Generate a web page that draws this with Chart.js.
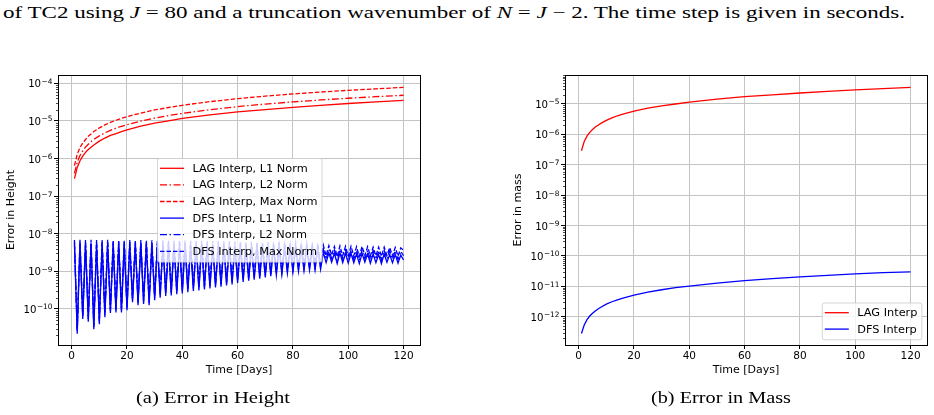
<!DOCTYPE html>
<html>
<head>
<meta charset="utf-8">
<script src="https://cdn.jsdelivr.net/npm/chart.js@4.4.0/dist/chart.umd.min.js"></script>
<style>
  body { margin: 0; width: 934px; height: 415px; background: #fff; position: relative; overflow: hidden; }
  .cap { position: absolute; font-family: "Liberation Serif", serif; color: #000; white-space: nowrap; transform-origin: 0 0; }
  #topcap { left: 3px; top: 3px; font-size: 17px; }
  .sub { top: 388px; font-size: 17px; }
  canvas { position: absolute; }
</style>
</head>
<body>
<div class="cap" id="topcap">of TC2 using <i>J</i> = 80 and a truncation wavenumber of <i>N</i> = <i>J</i> &minus; 2. The time step is given in seconds.</div>
<canvas id="height" width="440" height="330" style="left:0;top:60px"></canvas>
<canvas id="mass" width="454" height="330" style="left:480px;top:60px"></canvas>
<div class="cap sub" id="capA">(a) Error in Height</div>
<div class="cap sub" id="capB">(b) Error in Mass</div>
<script>
// data
const days = Array.from({ length: 120 }, (_, i) => i + 1);
const lagDays = [1, 2, 3, 4, 5, 6, 7, 8, 10, 12, 14, 16, 18, 20, 25, 30, 35, 40, 50, 60, 70, 80, 90, 100, 110, 120];

const lagL1 = [2.9e-7, 5.8e-7, 8.7e-7, 1.16e-6, 1.45e-6, 1.74e-6, 2.0e-6, 2.3e-6, 2.9e-6, 3.5e-6, 4.1e-6, 4.6e-6, 5.2e-6,
  5.8e-6, 7.3e-6, 8.7e-6, 1.0e-5, 1.16e-5, 1.45e-5, 1.74e-5, 2.0e-5, 2.3e-5, 2.6e-5, 2.9e-5, 3.2e-5, 3.5e-5];
const lagL2 = [4.0e-7, 8.0e-7, 1.2e-6, 1.6e-6, 2.0e-6, 2.4e-6, 2.8e-6, 3.2e-6, 4.0e-6, 4.8e-6, 5.6e-6, 6.4e-6, 7.2e-6,
  7.9e-6, 9.9e-6, 1.19e-5, 1.39e-5, 1.58e-5, 1.98e-5, 2.4e-5, 2.8e-5, 3.2e-5, 3.6e-5, 4.0e-5, 4.4e-5, 4.8e-5];
const lagMax = [6.5e-7, 1.3e-6, 1.95e-6, 2.6e-6, 3.2e-6, 3.9e-6, 4.5e-6, 5.2e-6, 6.5e-6, 7.8e-6, 9.1e-6, 1.04e-5, 1.17e-5,
  1.3e-5, 1.62e-5, 1.95e-5, 2.27e-5, 2.6e-5, 3.25e-5, 3.9e-5, 4.55e-5, 5.2e-5, 5.85e-5, 6.5e-5, 7.1e-5, 7.8e-5];

const dfsL1 = [
  5.2e-9, 2.2e-11, 5.3e-9, 5.4e-11, 5.2e-9, 4.6e-11, 5.3e-9, 2.9e-11, 5.2e-9, 3.9e-11,
  5.2e-9, 6.0e-11, 5.3e-9, 7.8e-11, 5.2e-9, 8.1e-11, 5.2e-9, 8.1e-11, 5.1e-9, 9.3e-11,
  5.2e-9, 1.5e-10, 5.1e-9, 1.26e-10, 5.2e-9, 1.35e-10, 5.1e-9, 1.26e-10, 5.1e-9, 1.7e-10,
  5.1e-9, 2.0e-10, 5.1e-9, 2.2e-10, 5.0e-9, 2.3e-10, 5.0e-9, 2.45e-10, 5.0e-9, 2.6e-10,
  5.0e-9, 2.8e-10, 4.9e-9, 3.0e-10, 4.9e-9, 3.1e-10, 4.9e-9, 3.3e-10, 4.8e-9, 3.5e-10,
  4.8e-9, 3.7e-10, 4.8e-9, 3.9e-10, 4.7e-9, 4.2e-10, 4.7e-9, 4.5e-10, 4.6e-9, 4.9e-10,
  4.6e-9, 5.2e-10, 4.5e-9, 5.6e-10, 4.5e-9, 6.0e-10, 4.4e-9, 6.4e-10, 4.4e-9, 6.9e-10,
  4.3e-9, 7.4e-10, 4.3e-9, 7.9e-10, 4.2e-9, 8.4e-10, 4.2e-9, 9.0e-10, 4.1e-9, 9.6e-10,
  4.1e-9, 1.0e-9, 4.0e-9, 1.05e-9, 4.0e-9, 1.08e-9, 3.9e-9, 1.1e-9, 3.8e-9, 1.12e-9,
  3.2e-9, 1.7e-9, 3.1e-9, 1.75e-9, 3.0e-9, 1.6e-9, 3.1e-9, 1.7e-9, 3.0e-9, 1.65e-9,
  3.0e-9, 1.7e-9, 2.9e-9, 1.6e-9, 3.0e-9, 1.75e-9, 2.9e-9, 1.65e-9, 2.9e-9, 1.7e-9,
  2.8e-9, 1.6e-9, 2.9e-9, 1.75e-9, 2.8e-9, 1.7e-9, 2.8e-9, 1.65e-9, 2.7e-9, 2.0e-9
];
const dfsL2 = [
  6.0e-9, 2.5e-11, 6.1e-9, 6.2e-11, 6.0e-9, 5.3e-11, 6.1e-9, 3.3e-11, 6.0e-9, 4.5e-11,
  6.0e-9, 6.9e-11, 6.1e-9, 9.0e-11, 6.0e-9, 9.3e-11, 6.0e-9, 9.3e-11, 5.9e-9, 1.07e-10,
  6.0e-9, 1.7e-10, 5.9e-9, 1.45e-10, 6.0e-9, 1.55e-10, 5.9e-9, 1.45e-10, 5.9e-9, 1.95e-10,
  5.9e-9, 2.3e-10, 5.9e-9, 2.5e-10, 5.8e-9, 2.65e-10, 5.8e-9, 2.8e-10, 5.8e-9, 3.0e-10,
  5.8e-9, 3.2e-10, 5.7e-9, 3.45e-10, 5.7e-9, 3.6e-10, 5.7e-9, 3.8e-10, 5.6e-9, 4.0e-10,
  5.6e-9, 4.25e-10, 5.6e-9, 4.5e-10, 5.5e-9, 4.8e-10, 5.5e-9, 5.2e-10, 5.4e-9, 5.6e-10,
  5.4e-9, 6.0e-10, 5.3e-9, 6.4e-10, 5.3e-9, 6.9e-10, 5.2e-9, 7.4e-10, 5.2e-9, 7.9e-10,
  5.1e-9, 8.5e-10, 5.1e-9, 9.1e-10, 5.0e-9, 9.7e-10, 5.0e-9, 1.03e-9, 4.9e-9, 1.1e-9,
  4.9e-9, 1.15e-9, 4.8e-9, 1.2e-9, 4.8e-9, 1.25e-9, 4.7e-9, 1.27e-9, 4.6e-9, 1.3e-9,
  3.9e-9, 2.1e-9, 3.8e-9, 2.2e-9, 3.7e-9, 2.0e-9, 3.8e-9, 2.1e-9, 3.7e-9, 2.05e-9,
  3.7e-9, 2.1e-9, 3.6e-9, 2.0e-9, 3.7e-9, 2.15e-9, 3.6e-9, 2.05e-9, 3.6e-9, 2.1e-9,
  3.5e-9, 2.0e-9, 3.6e-9, 2.15e-9, 3.5e-9, 2.1e-9, 3.5e-9, 2.05e-9, 3.4e-9, 2.6e-9
];
const dfsMax = [
  6.8e-9, 2.9e-11, 6.9e-9, 7.0e-11, 6.8e-9, 6.0e-11, 6.9e-9, 3.8e-11, 6.8e-9, 5.1e-11,
  6.8e-9, 7.8e-11, 6.9e-9, 1.0e-10, 6.8e-9, 1.05e-10, 6.8e-9, 1.05e-10, 6.7e-9, 1.2e-10,
  6.8e-9, 1.95e-10, 6.7e-9, 1.65e-10, 6.8e-9, 1.75e-10, 6.7e-9, 1.65e-10, 6.7e-9, 2.2e-10,
  6.7e-9, 2.6e-10, 6.7e-9, 2.85e-10, 6.6e-9, 3.0e-10, 6.6e-9, 3.2e-10, 6.6e-9, 3.4e-10,
  6.6e-9, 3.6e-10, 6.5e-9, 3.9e-10, 6.5e-9, 4.0e-10, 6.5e-9, 4.3e-10, 6.4e-9, 4.6e-10,
  6.4e-9, 4.8e-10, 6.4e-9, 5.1e-10, 6.3e-9, 5.5e-10, 6.3e-9, 5.9e-10, 6.2e-9, 6.4e-10,
  6.2e-9, 6.8e-10, 6.1e-9, 7.3e-10, 6.1e-9, 7.8e-10, 6.0e-9, 8.3e-10, 6.0e-9, 9.0e-10,
  5.9e-9, 9.6e-10, 5.9e-9, 1.03e-9, 5.8e-9, 1.1e-9, 5.8e-9, 1.17e-9, 5.7e-9, 1.25e-9,
  5.7e-9, 1.3e-9, 5.6e-9, 1.37e-9, 5.6e-9, 1.4e-9, 5.5e-9, 1.43e-9, 5.4e-9, 1.46e-9,
  4.9e-9, 2.6e-9, 4.8e-9, 2.7e-9, 4.6e-9, 2.5e-9, 4.7e-9, 2.6e-9, 4.6e-9, 2.55e-9,
  4.6e-9, 2.6e-9, 4.5e-9, 2.5e-9, 4.6e-9, 2.65e-9, 4.5e-9, 2.55e-9, 4.4e-9, 2.6e-9,
  4.4e-9, 2.5e-9, 4.4e-9, 2.65e-9, 4.3e-9, 2.6e-9, 4.3e-9, 2.55e-9, 4.2e-9, 3.6e-9
];

const massLag = [2.9e-7, 5.8e-7, 8.7e-7, 1.16e-6, 1.45e-6, 1.74e-6, 2.0e-6, 2.3e-6, 2.9e-6, 3.5e-6, 4.1e-6, 4.6e-6, 5.2e-6,
  5.8e-6, 7.3e-6, 8.7e-6, 1.0e-5, 1.16e-5, 1.45e-5, 1.74e-5, 2.0e-5, 2.3e-5, 2.6e-5, 2.9e-5, 3.2e-5, 3.5e-5];
const massDfs = [2.8e-13, 5.3e-13, 8.0e-13, 1.05e-12, 1.3e-12, 1.55e-12, 1.8e-12, 2.05e-12, 2.6e-12, 3.1e-12, 3.6e-12, 4.1e-12, 4.6e-12,
  5.1e-12, 6.4e-12, 7.7e-12, 9.0e-12, 1.02e-11, 1.28e-11, 1.53e-11, 1.78e-11, 2.04e-11, 2.3e-11, 2.55e-11, 2.8e-11, 3.0e-11];

const xTicks = [0, 20, 40, 60, 80, 100, 120];
const heightExps = [-10, -9, -8, -7, -6, -5, -4];
const massExps = [-12, -11, -10, -9, -8, -7, -6, -5];

const SOLID = [], DASHDOT = [7, 2.5, 1.5, 2.5], DASHED = [4.5, 2];
const RED = '#ff0000', BLUE = '#0000ff';
const FONT = '"DejaVu Sans", sans-serif';

Chart.defaults.font.family = FONT;
Chart.defaults.font.size = 10.5;
Chart.defaults.color = '#000';

function series(label, xs, ys, color, dash, order) {
  return {
    label, order,
    data: xs.map((x, i) => ({ x, y: ys[i] })),
    borderColor: color, borderWidth: 1.3, borderDash: dash,
    pointRadius: 0, fill: false, tension: 0
  };
}

// black frame, minor log ticks and 10^n labels on the left spine
const frame = {
  id: 'frame',
  afterDraw(chart) {
    const { ctx, chartArea: a } = chart;
    const y = chart.scales.y;
    ctx.save();
    ctx.strokeStyle = '#000';
    ctx.lineWidth = 0.7;
    const lo = Math.floor(Math.log10(y.min)), hi = Math.ceil(Math.log10(y.max));
    for (let e = lo; e < hi; e++) {
      for (let m = 2; m < 10; m++) {
        const v = m * Math.pow(10, e);
        if (v < y.min || v > y.max) continue;
        const py = Math.round(y.getPixelForValue(v)) + 0.5;
        ctx.beginPath(); ctx.moveTo(a.left - 2, py); ctx.lineTo(a.left, py); ctx.stroke();
      }
    }
    ctx.lineWidth = 1;
    ctx.strokeRect(Math.round(a.left) + 0.5, Math.round(a.top) + 0.5,
      Math.round(a.right - a.left), Math.round(a.bottom - a.top));

    ctx.fillStyle = '#000';
    ctx.textAlign = 'right';
    ctx.textBaseline = 'alphabetic';
    const xr = a.left - 5.5;
    y.ticks.forEach(t => {
      const py = y.getPixelForValue(t.value);
      const ex = '\u2212' + Math.abs(Math.round(Math.log10(t.value)));
      ctx.font = '7.4px ' + FONT;
      const ew = ctx.measureText(ex).width;
      ctx.fillText(ex, xr, py + 0.5);
      ctx.font = '10.2px ' + FONT;
      ctx.fillText('10', xr - ew - 0.5, py + 4);
    });
    ctx.restore();
  }
};

// matplotlib-like legend box
const boxLegend = {
  id: 'boxLegend',
  afterDraw(chart, args, o) {
    const { ctx, chartArea: a } = chart;
    const sets = chart.data.datasets;
    ctx.save();
    ctx.font = '11.3px ' + FONT;
    const textW = Math.max(...sets.map(d => ctx.measureText(d.label).width));
    const w = 35.5 + textW + 4;
    const h = sets.length * o.row + 4;
    const x0 = o.right ? a.right - o.dx - w : a.left + o.dx;
    const y0 = o.bottom ? a.bottom - o.dy - h : a.top + o.dy;
    ctx.fillStyle = 'rgba(255,255,255,0.8)';
    ctx.strokeStyle = 'rgba(204,204,204,0.8)';
    ctx.lineWidth = 1;
    ctx.beginPath();
    if (ctx.roundRect) ctx.roundRect(x0 + 0.5, y0 + 0.5, w, h, 2); else ctx.rect(x0 + 0.5, y0 + 0.5, w, h);
    ctx.fill(); ctx.stroke();
    sets.forEach((d, i) => {
      const cy = y0 + 2 + o.row * (i + 0.5);
      ctx.strokeStyle = d.borderColor;
      ctx.lineWidth = 1.3;
      ctx.setLineDash(d.borderDash);
      ctx.beginPath(); ctx.moveTo(x0 + 3, cy); ctx.lineTo(x0 + 27, cy); ctx.stroke();
      ctx.setLineDash([]);
      ctx.fillStyle = '#000';
      ctx.textBaseline = 'middle';
      ctx.fillText(d.label, x0 + 35.5, cy + 0.5);
    });
    ctx.restore();
  }
};

function makeChart(id, datasets, yRange, yExps, yTitle, yWidth, yTitlePad, padRight, legend) {
  return new Chart(document.getElementById(id), {
    type: 'line',
    data: { datasets },
    plugins: [frame, boxLegend],
    options: {
      responsive: false,
      animation: false,
      devicePixelRatio: 1,
      layout: { padding: { top: 15, right: padRight, left: 0, bottom: 0 } },
      plugins: { legend: { display: false }, tooltip: { enabled: false }, boxLegend: legend },
      scales: {
        x: {
          type: 'linear', min: -4.95, max: 125.95,
          afterBuildTicks: s => { s.ticks = xTicks.map(v => ({ value: v })); },
          afterFit: s => { s.height = 45; },
          ticks: { padding: 1, maxRotation: 0, autoSkip: false },
          grid: { color: '#c4c4c4', lineWidth: 1, tickColor: '#000', tickLength: 4 },
          border: { display: false },
          title: { display: true, text: 'Time [Days]', font: { size: 11 }, padding: { top: 0, bottom: 13 } }
        },
        y: {
          type: 'logarithmic', min: yRange[0], max: yRange[1],
          afterBuildTicks: s => { s.ticks = yExps.map(e => ({ value: Math.pow(10, e) })); },
          afterFit: s => { s.width = yWidth; },
          ticks: { display: false },
          grid: { color: '#c4c4c4', lineWidth: 1, tickColor: '#000', tickLength: 4 },
          border: { display: false },
          title: { display: true, text: yTitle, font: { size: 11 }, padding: { top: yTitlePad, bottom: 0 } }
        }
      }
    }
  });
}

makeChart('height', [
  series('LAG Interp, L1 Norm', lagDays, lagL1, RED, SOLID, 6),
  series('LAG Interp, L2 Norm', lagDays, lagL2, RED, DASHDOT, 5),
  series('LAG Interp, Max Norm', lagDays, lagMax, RED, DASHED, 4),
  series('DFS Interp, L1 Norm', days, dfsL1, BLUE, SOLID, 3),
  series('DFS Interp, L2 Norm', days, dfsL2, BLUE, DASHDOT, 2),
  series('DFS Interp, Max Norm', days, dfsMax, BLUE, DASHED, 1)
], [1.1e-11, 1.66e-4], heightExps, 'Error in Height', 58, 4.2, 20,
  { dx: 99, dy: 83, row: 16.6 });

makeChart('mass', [
  series('LAG Interp', lagDays, massLag, RED, SOLID, 2),
  series('DFS Interp', lagDays, massDfs, BLUE, SOLID, 1)
], [1.17e-13, 9.0e-5], massExps, 'Error in mass', 85, 31.2, 7,
  { right: true, bottom: true, dx: 5.6, dy: 5.7, row: 16.4 });

// stretch the captions to the widths of the original lines
function fit(id, left, width) {
  const el = document.getElementById(id);
  const w = el.getBoundingClientRect().width;
  el.style.left = left + 'px';
  el.style.transform = 'scaleX(' + (width / w) + ')';
}
fit('topcap', 3, 902);
fit('capA', 136, 154);
fit('capB', 651, 140);
</script>
</body>
</html>
